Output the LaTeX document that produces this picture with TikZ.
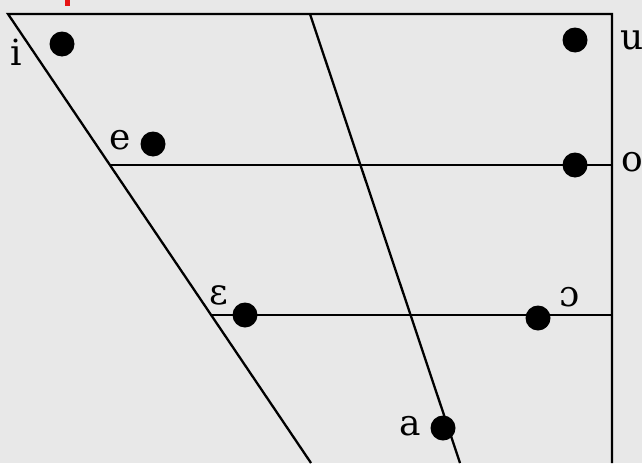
\documentclass[tikz,border=0pt]{standalone}
\usepackage{fontspec}
\setmainfont{DejaVu Serif}
\usetikzlibrary{positioning}
\definecolor{chartbg}{RGB}{232,232,232}
\definecolor{chartred}{RGB}{230,20,20}

\begin{document}
\begin{tikzpicture}[x=1pt, y=-1pt,
  dot/.style={circle, fill=black, inner sep=0pt, minimum size=25pt},
  vowel/.style={font=\fontsize{36}{36}\selectfont, inner sep=0pt},
  chart/.style={black, line width=2.3pt}]
% background
\fill[chartbg] (0,0) rectangle (642,463);
\useasboundingbox (0,0) rectangle (642,463);
\fill[chartred] (65,0) rectangle (70,6);
% frame of the chart
\coordinate (tl) at (8,14);
\coordinate (tm) at (310,14);
\coordinate (tr) at (612,14);
\coordinate (bl) at (311,463);
\coordinate (bm) at (460,463);
\coordinate (br) at (612,463);
\coordinate (ml) at (110,165);
\coordinate (mr) at (612,165);
\coordinate (ll) at (211,315);
\coordinate (lr) at (612,315);
\draw[chart] (bl) -- (tl) -- (tr) -- (br);
\draw[chart] (tm) -- (bm);
\draw[chart] (ml) -- (mr);
\draw[chart] (ll) -- (lr);
% vowels
\node[dot] (i) at (62,44) {};
\node[dot] (u) at (575,40) {};
\node[dot] (e) at (153,144) {};
\node[dot] (o) at (575,165) {};
\node[dot] (eps) at (245,315) {};
\node[dot] (oo) at (538,318) {};
\node[dot] (a) at (443,428) {};
\node[vowel] (li) at (16,52) {i};
\node[vowel] (lu) at (632,40) {u};
\node[vowel] (le) at (120,140) {e};
\node[vowel] (lo) at (632,162) {o};
\node[vowel] (leps) at (219,295) {ɛ};
\node[vowel] (loo) at (570,297) {ɔ};
\node[vowel] (la) at (410,426) {a};
\end{tikzpicture}
\end{document}
